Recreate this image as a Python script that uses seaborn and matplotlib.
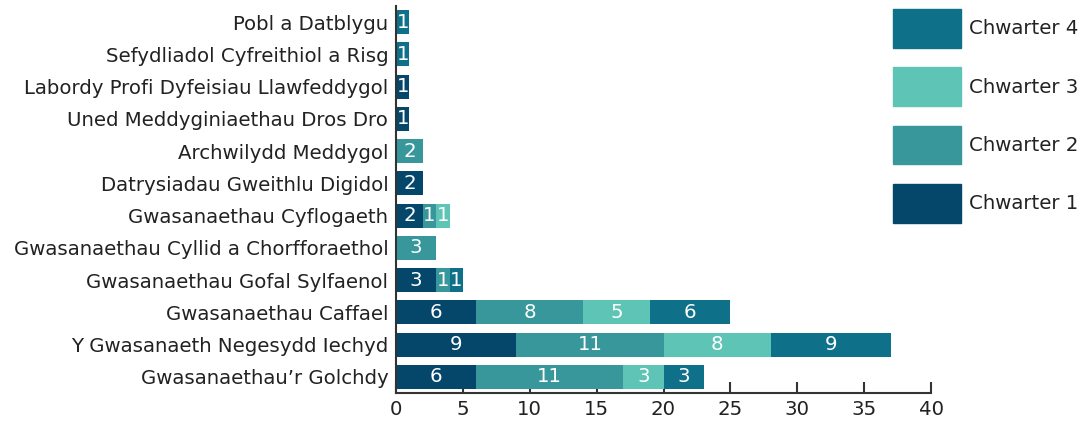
import matplotlib
matplotlib.use("Agg")
import matplotlib.pyplot as plt
import seaborn as sns
import pandas as pd
import numpy as np

categories = [
    "Pobl a Datblygu",
    "Sefydliadol Cyfreithiol a Risg",
    "Labordy Profi Dyfeisiau Llawfeddygol",
    "Uned Meddyginiaethau Dros Dro",
    "Archwilydd Meddygol",
    "Datrysiadau Gweithlu Digidol",
    "Gwasanaethau Cyflogaeth",
    "Gwasanaethau Cyllid a Chorfforaethol",
    "Gwasanaethau Gofal Sylfaenol",
    "Gwasanaethau Caffael",
    "Y Gwasanaeth Negesydd Iechyd",
    "Gwasanaethau\u2019r Golchdy",
]
q1 = [0, 0, 1, 1, 0, 2, 2, 0, 3, 6, 9, 6]
q2 = [0, 0, 0, 0, 2, 0, 1, 3, 1, 8, 11, 11]
q3 = [0, 0, 0, 0, 0, 0, 1, 0, 0, 5, 8, 3]
q4 = [1, 1, 0, 0, 0, 0, 0, 0, 1, 6, 9, 3]
series_names = ["Chwarter 1", "Chwarter 2", "Chwarter 3", "Chwarter 4"]
colors = ["#05476a", "#37979b", "#5ec4b5", "#0f7189"]
xticks = [0, 5, 10, 15, 20, 25, 30, 35, 40]

sns.set_theme(style="white")
plt.rcParams["font.family"] = ["DejaVu Sans"]
text_color = "#222222"
fs = 14.2

fig = plt.figure(figsize=(10.84, 4.23), dpi=100)
ax = fig.add_axes([396 / 1084, 1 - 393 / 423, (931 - 396) / 1084, (393 - 6) / 423])

vals = np.array([q1, q2, q3, q4], dtype=float)
cum = np.cumsum(vals, axis=0)

# draw from top of stack downwards so lower segments overlay
for i in range(3, -1, -1):
    df = pd.DataFrame({"cat": categories, "val": cum[i]})
    sns.barplot(data=df, y="cat", x="val", order=categories, color=colors[i],
                saturation=1, width=0.74, ax=ax, orient="h", linewidth=0)

for i in range(4):
    for j, c in enumerate(categories):
        v = vals[i, j]
        if v > 0:
            ax.text(cum[i, j] - v / 2, j, f"{int(v)}", ha="center", va="center",
                    color="white", fontsize=fs)

ax.set_xlim(0, 40)
ax.set_ylim(11.5, -0.5)
ax.set_xticks(xticks)
ax.set_xlabel("")
ax.set_ylabel("")
for s in ["top", "right"]:
    ax.spines[s].set_visible(False)
for s in ["left", "bottom"]:
    ax.spines[s].set_color("#333333")
    ax.spines[s].set_linewidth(1.5)
ax.tick_params(axis="x", direction="in", length=8, width=1.5, color="#333333",
               labelsize=fs, labelcolor=text_color, pad=5, bottom=True)
ax.tick_params(axis="y", length=0, labelsize=fs, labelcolor=text_color, pad=5.5)

handles = [plt.Rectangle((0, 0), 1, 1, color=colors[i]) for i in range(3, -1, -1)]
labels = [series_names[i] for i in range(3, -1, -1)]
fig.legend(handles, labels, loc="upper left",
           bbox_to_anchor=(893 / 1084, 1 - 9 / 423), frameon=False,
           fontsize=fs, handlelength=3.45, handleheight=2.64, labelspacing=1.0,
           handletextpad=0.4, borderpad=0, borderaxespad=0, labelcolor=text_color)

fig.savefig("out.png", dpi=100)
